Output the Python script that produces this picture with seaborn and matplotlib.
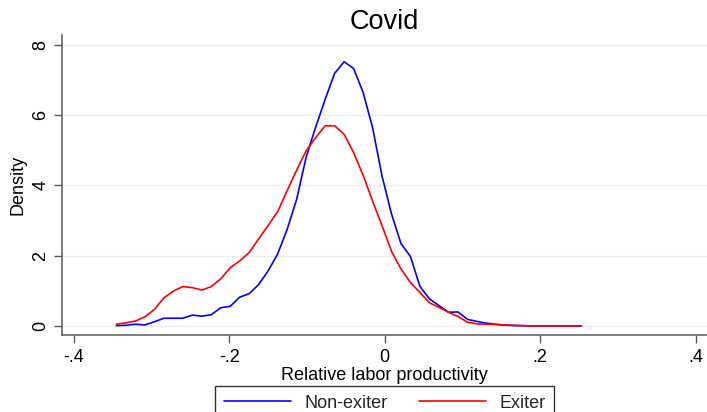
import matplotlib
matplotlib.use("Agg")
import matplotlib.pyplot as plt
import seaborn as sns
import pandas as pd

# Evaluation grid of the kernel density estimates (relative labor productivity)
grid = [-0.3450, -0.3328, -0.3206, -0.3084, -0.2962, -0.2840, -0.2718, -0.2596,
        -0.2474, -0.2352, -0.2230, -0.2108, -0.1986, -0.1864, -0.1742, -0.1620,
        -0.1498, -0.1376, -0.1254, -0.1132, -0.1010, -0.0888, -0.0766, -0.0644,
        -0.0522, -0.0400, -0.0278, -0.0156, -0.0034, 0.0088, 0.0210, 0.0332,
        0.0454, 0.0576, 0.0698, 0.0820, 0.0942, 0.1064, 0.1186, 0.1308,
        0.1430, 0.1552, 0.1674, 0.1796, 0.1918, 0.2040, 0.2162, 0.2284,
        0.2406, 0.2528]

density_non_exiter = [0.01, 0.02, 0.05, 0.03, 0.12, 0.22, 0.22, 0.22, 0.31, 0.28,
                      0.32, 0.52, 0.56, 0.82, 0.92, 1.18, 1.57, 2.05, 2.75, 3.60,
                      4.80, 5.65, 6.44, 7.18, 7.51, 7.32, 6.64, 5.64, 4.26, 3.18,
                      2.34, 1.97, 1.12, 0.77, 0.58, 0.39, 0.40, 0.19, 0.13, 0.08,
                      0.05, 0.02, 0.01, 0.005, 0.0, 0.0, 0.0, 0.0, 0.0, 0.0]

density_exiter = [0.05, 0.09, 0.14, 0.26, 0.47, 0.80, 0.99, 1.12, 1.09, 1.02,
                  1.12, 1.34, 1.66, 1.85, 2.09, 2.48, 2.86, 3.25, 3.85, 4.43,
                  4.98, 5.35, 5.69, 5.69, 5.45, 4.93, 4.29, 3.55, 2.85, 2.12,
                  1.62, 1.23, 0.95, 0.66, 0.53, 0.39, 0.27, 0.11, 0.06, 0.05,
                  0.04, 0.03, 0.02, 0.01, 0.0, 0.0, 0.0, 0.0, 0.0, 0.0]

groups = ["Non-exiter", "Exiter"]
x_ticks = [-0.4, -0.2, 0.0, 0.2, 0.4]
x_tick_labels = ["-.4", "-.2", "0", ".2", ".4"]
y_ticks = [0, 2, 4, 6, 8]
y_tick_labels = ["0", "2", "4", "6", "8"]

df = pd.DataFrame({
    "x": grid * 2,
    "density": density_non_exiter + density_exiter,
    "group": [groups[0]] * len(grid) + [groups[1]] * len(grid),
})

sns.set_theme(style="white")
plt.rcParams["font.family"] = ["Liberation Sans", "DejaVu Sans"]

fig = plt.figure(figsize=(7.07, 4.12), dpi=100)
ax = fig.add_axes([62 / 707, 77 / 412, 645 / 707, 300 / 412])

sns.lineplot(data=df, x="x", y="density", hue="group",
             palette={"Non-exiter": "#0000ff", "Exiter": "#ff0000"},
             linewidth=1.2, ax=ax, legend=False, zorder=3)

ax.set_xlim(-0.415, 0.4145)
ax.set_ylim(-0.256, 8.27)
ax.set_xticks(x_ticks)
ax.set_xticklabels(x_tick_labels)
ax.set_yticks(y_ticks)
ax.set_yticklabels(y_tick_labels, rotation=90, va="center")

ax.grid(axis="y", color="#e8f0f2", linewidth=1.0, zorder=0)
ax.grid(axis="x", visible=False)
for side in ["top", "right"]:
    ax.spines[side].set_visible(False)
for side in ["left", "bottom"]:
    ax.spines[side].set_color("#5a5a5a")
    ax.spines[side].set_linewidth(1.1)

ax.tick_params(axis="both", which="major", length=6, width=1.0, color="#5a5a5a",
               labelsize=13, labelcolor="black", direction="out",
               bottom=True, left=True)
ax.tick_params(axis="x", pad=4)
ax.tick_params(axis="y", pad=3)

ax.set_xlabel("Relative labor productivity", fontsize=13, color="black", labelpad=1)
ax.set_ylabel("Density", fontsize=13, color="black", labelpad=4)
ax.set_title("Covid", fontsize=19.5, color="black", pad=4)

handles = [plt.Line2D([], [], color="#0000ff", linewidth=1.2),
           plt.Line2D([], [], color="#ff0000", linewidth=1.2)]
leg = fig.legend(handles, groups, loc="upper center", ncol=2,
                 bbox_to_anchor=(384.5 / 707, 1 - 385.5 / 412),
                 frameon=True, fancybox=False, fontsize=13,
                 handlelength=3.7, columnspacing=1.75, borderpad=0.5,
                 handletextpad=0.75, borderaxespad=0.0)
leg.get_frame().set_edgecolor("black")
leg.get_frame().set_linewidth(1.0)

fig.savefig("out.png", dpi=100)
